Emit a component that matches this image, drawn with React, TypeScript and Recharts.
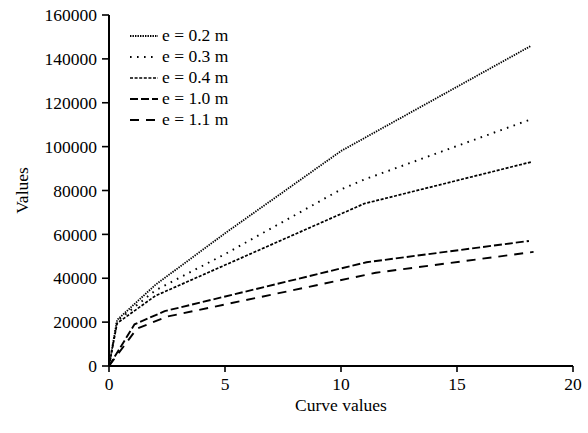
import { LineChart, Line, XAxis, YAxis, Legend } from "recharts";

// e = 0.2 m
const x02 = [0, 0.35, 2, 5, 10, 18.2];
const y02 = [0, 21000, 37000, 60500, 98000, 146000];
// e = 0.3 m
const x03 = [0, 0.35, 2, 5, 10, 11, 18.2];
const y03 = [0, 20500, 34500, 51000, 80500, 85000, 112500];
// e = 0.4 m
const x04 = [0, 0.35, 2, 5, 11, 18.2];
const y04 = [0, 19500, 32000, 46000, 74000, 93000];
// e = 1.0 m
const x10 = [0, 1.1, 2.4, 11.1, 18.1];
const y10 = [0, 19000, 25000, 47300, 57000];
// e = 1.1 m
const x11 = [0, 1.2, 2.5, 11.5, 18.3];
const y11 = [0, 17000, 22500, 42500, 52000];

const xTicks = [0, 5, 10, 15, 20];
const yTicks = [0, 20000, 40000, 60000, 80000, 100000, 120000, 140000, 160000];

const toPoints = (xs: number[], ys: number[]) => xs.map((x, i) => ({ x, y: ys[i] }));

const series = [
  { name: "e = 0.2 m", data: toPoints(x02, y02), dash: "1.4 1.1", width: 1.8 },
  { name: "e = 0.3 m", data: toPoints(x03, y03), dash: "1.6 5.4", width: 1.9 },
  { name: "e = 0.4 m", data: toPoints(x04, y04), dash: "3 1.6", width: 1.7 },
  { name: "e = 1.0 m", data: toPoints(x10, y10), dash: "8 3", width: 1.9 },
  { name: "e = 1.1 m", data: toPoints(x11, y11), dash: "9 7", width: 1.9 },
];

const font = "'Liberation Serif', 'Times New Roman', serif";
const fs = 17.5;

function LegendBox() {
  return (
    <div style={{ fontFamily: font, fontSize: fs, color: "#000" }}>
      {series.map((s) => (
        <div key={s.name} style={{ display: "flex", alignItems: "center", height: 21 }}>
          <svg width={28} height={10} style={{ marginRight: 4 }}>
            <line x1={0} y1={5} x2={28} y2={5} stroke="#000" strokeWidth={s.width} strokeDasharray={s.dash} />
          </svg>
          <span>{s.name}</span>
        </div>
      ))}
    </div>
  );
}

export default function App() {
  return (
    <div style={{ position: "absolute", left: 0, top: 0, background: "#fff" }}>
      <LineChart
        width={588}
        height={433}
        margin={{ top: 15, right: 15, bottom: 17, left: 0 }}
        style={{ fontFamily: font }}
      >
        <XAxis
          dataKey="x"
          type="number"
          domain={[0, 20]}
          ticks={xTicks}
          allowDuplicatedCategory={false}
          height={50}
          tickSize={6}
          tickMargin={6}
          tick={{ fill: "#000", fontSize: fs }}
          axisLine={{ stroke: "#000", strokeWidth: 2 }}
          tickLine={{ stroke: "#000", strokeWidth: 1.6 }}
          label={{ value: "Curve values", position: "insideBottom", offset: 5, fill: "#000", fontSize: fs }}
        />
        <YAxis
          type="number"
          domain={[0, 160000]}
          ticks={yTicks}
          width={109}
          tickSize={7}
          tickMargin={5}
          tick={{ fill: "#000", fontSize: fs }}
          axisLine={{ stroke: "#000", strokeWidth: 2 }}
          tickLine={{ stroke: "#000", strokeWidth: 1.6 }}
          label={{
            value: "Values",
            angle: -90,
            position: "insideLeft",
            offset: 22,
            fill: "#000",
            fontSize: fs,
            style: { textAnchor: "middle" },
          }}
        />
        <Legend
          layout="horizontal"
          align="center"
          verticalAlign="middle"
          content={() => <LegendBox />}
          wrapperStyle={{ left: 130, top: 25, width: "auto" }}
        />
        {series.map((s) => (
          <Line
            key={s.name}
            name={s.name}
            data={s.data}
            dataKey="y"
            type="linear"
            stroke="#000"
            strokeWidth={s.width}
            strokeDasharray={s.dash}
            dot={false}
            activeDot={false}
            isAnimationActive={false}
          />
        ))}
      </LineChart>
    </div>
  );
}
